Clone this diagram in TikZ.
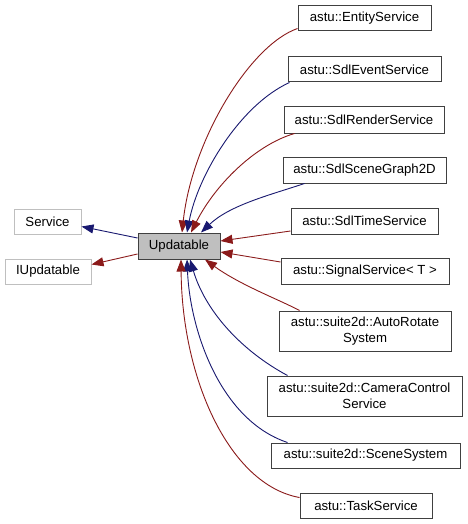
\documentclass[tikz,border=0pt]{standalone}
\usepackage{fontspec}
\setmainfont{Liberation Sans}
\usetikzlibrary{arrows.meta}
\definecolor{edgeblue}{HTML}{191970}
\definecolor{edgered}{HTML}{8B1A1A}
\definecolor{boxgray}{HTML}{BFBFBF}
\definecolor{boxborder}{HTML}{404040}
\begin{document}
\begin{tikzpicture}[x=1pt,y=-1pt,
  cls/.style={draw=boxborder, line width=1pt, fill=white, inner sep=0pt,
    font=\fontsize{13.2}{15.5}\selectfont, align=center, minimum height=25pt},
  extcls/.style={cls, draw=boxgray},
  curcls/.style={cls, fill=boxgray},
  tip/.style={-{Triangle[length=12pt,width=9pt]}},
  redge/.style={draw=edgered, line width=0.9pt, tip},
  bedge/.style={draw=edgeblue, line width=0.9pt, tip}
]
\useasboundingbox[fill=white] (0,0) rectangle (467,524);

\node[extcls, minimum width=67pt] (service) at (47.5,221.5) {Service};
\node[extcls, minimum width=86pt] (iupd) at (48,271.5) {IUpdatable};
\node[curcls, minimum width=82pt, minimum height=26pt] (upd) at (179,246) {Updatable};

\node[cls, minimum width=133pt] (entity) at (364.5,18.5) {astu::EntityService};
\node[cls, minimum width=153pt] (sdlevent) at (364.5,69.5) {astu::SdlEventService};
\node[cls, minimum width=160pt, minimum height=26pt] (sdlrender) at (364,120) {astu::SdlRenderService};
\node[cls, minimum width=163pt, minimum height=26pt] (scenegraph) at (364.5,170) {astu::SdlSceneGraph2D};
\node[cls, minimum width=147pt, minimum height=26pt] (sdltime) at (364.5,221) {astu::SdlTimeService};
\node[cls, minimum width=168pt, minimum height=26pt] (signal) at (365,271) {astu::SignalService< T >};
\node[cls, minimum width=172pt, minimum height=40pt] (autorot) at (365,331) {astu::suite2d::AutoRotate\\System};
\node[cls, minimum width=195pt, minimum height=40pt] (camctrl) at (364.5,396) {astu::suite2d::CameraControl\\Service};
\node[cls, minimum width=189pt] (scenesys) at (365.5,455.5) {astu::suite2d::SceneSystem};
\node[cls, minimum width=132pt] (task) at (366,505.5) {astu::TaskService};

% Updatable -> parents
\draw[bedge] ([yshift=8pt]upd.west) -- ([yshift=-5pt]service.east);
\draw[redge] ([yshift=-8pt]upd.west) -- ([yshift=7pt]iupd.east);

% children -> Updatable
\draw[redge] ([yshift=3pt]entity.south west) .. controls (250,45) and (192,140) .. ([xshift=3pt]upd.north);
\draw[bedge] ([xshift=2pt]sdlevent.south west) .. controls (240,105) and (198,175) .. ([xshift=8pt]upd.north);
\draw[redge] ([xshift=11pt]sdlrender.south west) .. controls (255,145) and (215,185) .. ([xshift=12pt]upd.north);
\draw[bedge] ([xshift=22pt]scenegraph.south west) .. controls (270,195) and (230,205) .. ([xshift=22pt]upd.north);
\draw[redge] ([yshift=-10pt]sdltime.west) -- ([yshift=5pt]upd.east);
\draw[redge] ([yshift=9pt]signal.west) -- ([yshift=-6pt]upd.east);
\draw[redge] ([xshift=21pt]autorot.north west) .. controls (280,300) and (240,285) .. ([xshift=26pt]upd.south);
\draw[bedge] ([xshift=21pt]camctrl.north west) .. controls (240,350) and (205,310) .. ([xshift=11pt]upd.south);
\draw[bedge] ([xshift=17pt]scenesys.north west) .. controls (220,420) and (190,330) .. ([xshift=8pt]upd.south);
\draw[redge] ([yshift=8pt]task.west) .. controls (230,485) and (182,380) .. ([xshift=2pt]upd.south);
\end{tikzpicture}
\end{document}
